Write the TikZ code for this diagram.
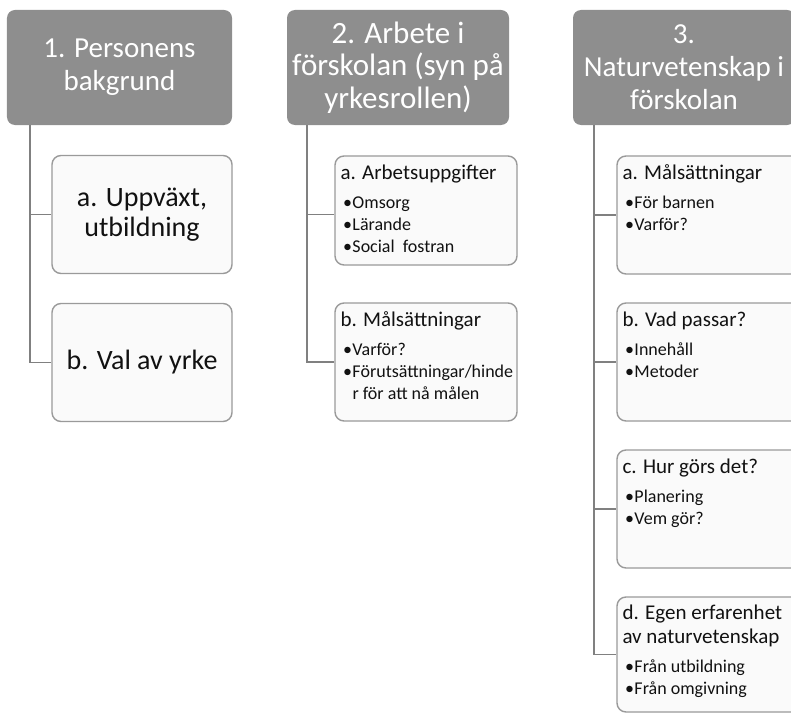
\documentclass[tikz,border=0pt]{standalone}
\usepackage{fontspec}
\setmainfont{Carlito}
\usetikzlibrary{calc}
\definecolor{hdr}{HTML}{8E8E8E}
\definecolor{boxfill}{HTML}{FAFAFA}
\definecolor{boxline}{HTML}{9A9A9A}
\definecolor{connc}{HTML}{808080}
\definecolor{txt}{HTML}{111111}
\newcommand\ttlfont{\fontsize{21bp}{24bp}\selectfont}
\newcommand\bulfont{\fontsize{18bp}{22bp}\selectfont}
\newcommand\bitem[1]{\hangindent=12bp\hangafter=1\makebox[12bp][l]{\hspace{2.5bp}\textbullet}#1\par}
\newcommand\boxcontent[2]{\parbox[t]{176bp}{\raggedright\ttlfont #1\par\vspace{7bp}\bulfont #2}}
\begin{document}
\begin{tikzpicture}[x=1bp,y=-1bp,
  hdrbox/.style={fill=hdr, draw=none, rounded corners=8bp, text=white, align=center, inner sep=0pt,
    minimum height=115bp, font=\fontsize{29bp}{33bp}\selectfont},
  subbox/.style={fill=boxfill, draw=boxline, line width=1.4bp, rounded corners=9bp, inner sep=0pt, text=txt},
  conline/.style={draw=connc, line width=1.5bp},
  boxtxt/.style={anchor=base west, inner sep=0pt, text=txt},
]
\useasboundingbox (0,0) rectangle (791,713);

% headers
\node[hdrbox, minimum width=225bp] (h1) at (119.5,67.5) {1. Personens\\bakgrund};
\node[hdrbox, minimum width=222bp, font=\fontsize{31bp}{32.5bp}\selectfont] (h2) at (398,67.5) {2. Arbete i\\förskolan (syn på\\yrkesrollen)};
\node[hdrbox, minimum width=222bp] (h3) at (684,67.5) {3.\\Naturvetenskap i\\förskolan};

% column 1
\node[subbox, minimum width=180bp, minimum height=118bp, align=center,
  font=\fontsize{28bp}{30bp}\selectfont] (a1) at (142,214.5) {a. Uppväxt,\\utbildning};
\node[subbox, minimum width=180bp, minimum height=118bp, align=center,
  font=\fontsize{28bp}{30bp}\selectfont] (b1) at (142,362.5) {b. Val av yrke};

% column 2
\node[subbox, minimum width=182bp, minimum height=109bp] (a2) at (426,210.5) {};
\node[subbox, minimum width=182bp, minimum height=118bp] (b2) at (426,362) {};
\node[boxtxt] (a2t) at ($(a2.north west)+(6,24)$) {\boxcontent{a. Arbetsuppgifter}{\bitem{Omsorg}\bitem{Lärande}\bitem{Social\hspace{0.45em}fostran}}};
\node[boxtxt] (b2t) at ($(b2.north west)+(6,24)$) {\boxcontent{b. Målsättningar}{\bitem{Varför?}\bitem{Förutsättningar/hinde\newline r för att nå målen}}};
\coordinate (a2in) at ($(a2.north west)+(0,59)$);

% column 3
\node[subbox, minimum width=183bp, minimum height=118bp] (a3) at (708.5,215) {};
\node[subbox, minimum width=183bp, minimum height=118bp] (b3) at (708.5,362) {};
\node[subbox, minimum width=183bp, minimum height=118bp] (c3) at (708.5,509) {};
\node[subbox, minimum width=183bp, minimum height=115bp] (d3) at (708.5,654.5) {};
\node[boxtxt] (a3t) at ($(a3.north west)+(6,24)$) {\boxcontent{a. Målsättningar}{\bitem{För barnen}\bitem{Varför?}}};
\node[boxtxt] (b3t) at ($(b3.north west)+(6,24)$) {\boxcontent{b. Vad passar?}{\bitem{Innehåll}\bitem{Metoder}}};
\node[boxtxt] (c3t) at ($(c3.north west)+(6,24)$) {\boxcontent{c. Hur görs det?}{\bitem{Planering}\bitem{Vem gör?}}};
\node[boxtxt] (d3t) at ($(d3.north west)+(6,23)$) {\boxcontent{d. Egen erfarenhet\\av naturvetenskap}{\bitem{Från utbildning}\bitem{Från omgivning}}};

% connectors
\draw[conline] ($(h1.south west)+(23,0)$) |- (a1.west);
\draw[conline] ($(h1.south west)+(23,0)$) |- (b1.west);
\draw[conline] ($(h2.south west)+(20,0)$) |- (a2in);
\draw[conline] ($(h2.south west)+(20,0)$) |- (b2.west);
\draw[conline] ($(h3.south west)+(21,0)$) |- (a3.west);
\draw[conline] ($(h3.south west)+(21,0)$) |- (b3.west);
\draw[conline] ($(h3.south west)+(21,0)$) |- (c3.west);
\draw[conline] ($(h3.south west)+(21,0)$) |- (d3.west);
\end{tikzpicture}
\end{document}
